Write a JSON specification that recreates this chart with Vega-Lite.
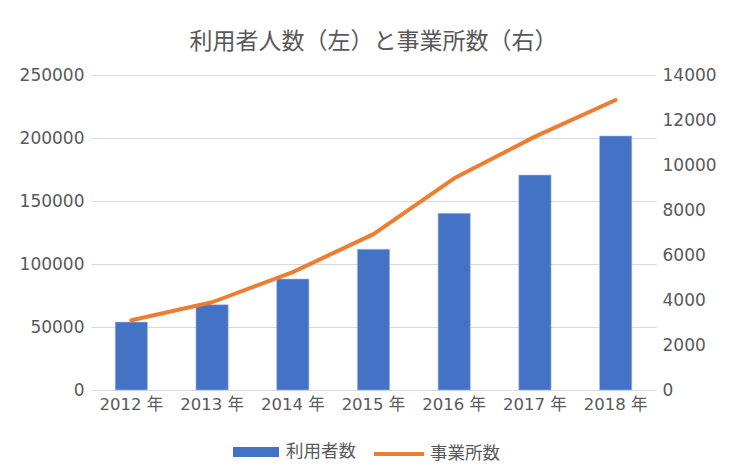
{
  "$schema": "https://vega.github.io/schema/vega-lite/v6.json",
  "autosize": {"type": "none"},
  "padding": {"left": 91, "top": 75, "right": 80, "bottom": 83},
  "width": 565,
  "height": 315,
  "background": "white",
  "title": {
    "text": "利用者人数（左）と事業所数（右）",
    "font": "'Noto Sans CJK JP'",
    "fontSize": 23,
    "fontWeight": "normal",
    "color": "#595959",
    "anchor": "middle",
    "offset": 12
  },
  "data": {
    "values": [
      {"year": "2012 年", "users": 53900, "offices": 3100},
      {"year": "2013 年", "users": 67700, "offices": 3900},
      {"year": "2014 年", "users": 88100, "offices": 5240},
      {"year": "2015 年", "users": 111700, "offices": 6930},
      {"year": "2016 年", "users": 140200, "offices": 9410},
      {"year": "2017 年", "users": 170600, "offices": 11260},
      {"year": "2018 年", "users": 201600, "offices": 12890}
    ]
  },
  "encoding": {
    "x": {
      "field": "year",
      "type": "nominal",
      "sort": null,
      "scale": {"paddingInner": 0.6, "paddingOuter": 0.3},
      "axis": {
        "title": null,
        "labelAngle": 0,
        "domain": false,
        "ticks": false,
        "labelPadding": 6,
        "labelFontSize": 16.5,
        "grid": false
      }
    }
  },
  "layer": [
    {
      "mark": {"type": "bar", "stroke": "#a9bfe6", "strokeWidth": 0.6},
      "encoding": {
        "y": {
          "field": "users",
          "type": "quantitative",
          "scale": {"domain": [0, 250000], "nice": false},
          "axis": {
            "title": null,
            "orient": "left",
            "values": [0, 50000, 100000, 150000, 200000, 250000],
            "format": "d",
            "grid": true,
            "gridColor": "#d9d9d9",
            "gridWidth": 1,
            "domain": false,
            "ticks": false,
            "labelPadding": 7,
            "labelFontSize": 17
          }
        },
        "fill": {
          "datum": "利用者数",
          "type": "nominal",
          "scale": {"range": ["#4472c4"]},
          "legend": {
            "title": null,
            "orient": "none",
            "direction": "horizontal",
            "legendX": 142,
            "legendY": 354,
            "symbolType": "M-1,-0.22H1V0.22H-1Z",
            "symbolSize": 2116,
            "symbolStrokeWidth": 0,
            "symbolOpacity": 1,
            "labelOffset": 7,
            "labelFontSize": 17.5,
            "labelColor": "#595959",
            "labelFont": "'Noto Sans CJK JP'",
            "padding": 0
          }
        }
      }
    },
    {
      "mark": {"type": "line", "strokeWidth": 4, "strokeCap": "round", "strokeJoin": "round"},
      "encoding": {
        "y": {
          "field": "offices",
          "type": "quantitative",
          "scale": {"domain": [0, 14000], "nice": false},
          "axis": {
            "title": null,
            "orient": "right",
            "values": [0, 2000, 4000, 6000, 8000, 10000, 12000, 14000],
            "format": "d",
            "grid": false,
            "domain": false,
            "ticks": false,
            "labelPadding": 6,
            "labelFontSize": 17
          }
        },
        "stroke": {
          "datum": "事業所数",
          "type": "nominal",
          "scale": {"range": ["#ed7d31"]},
          "legend": {
            "title": null,
            "orient": "none",
            "direction": "horizontal",
            "legendX": 281,
            "legendY": 352,
            "symbolType": "stroke",
            "symbolSize": 2500,
            "symbolStrokeWidth": 4,
            "symbolOpacity": 1,
            "labelOffset": 4,
            "labelFontSize": 17.5,
            "labelColor": "#595959",
            "labelFont": "'Noto Sans CJK JP'",
            "padding": 0
          }
        }
      }
    }
  ],
  "resolve": {"scale": {"y": "independent"}},
  "config": {
    "view": {"stroke": null},
    "font": "'DejaVu Sans', 'Noto Sans CJK JP'",
    "axis": {
      "labelFont": "'DejaVu Sans', 'Noto Sans CJK JP'",
      "labelColor": "#595959"
    }
  }
}
